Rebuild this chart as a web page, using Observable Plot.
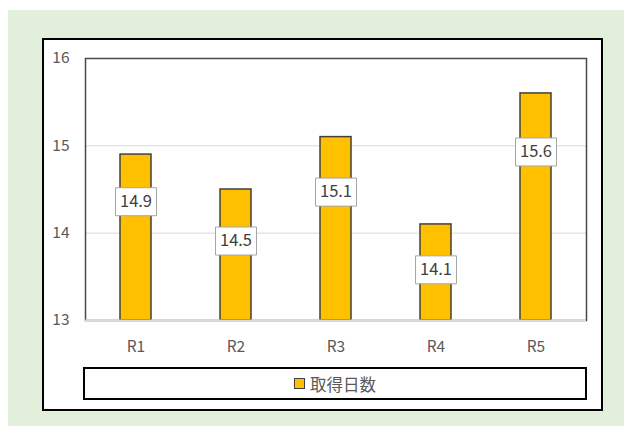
<!DOCTYPE html>
<html>
<head>
<meta charset="utf-8">
<script src="https://cdn.jsdelivr.net/npm/d3@7"></script>
<script src="https://cdn.jsdelivr.net/npm/@observablehq/plot@0.6"></script>
<style>
  html, body { margin: 0; padding: 0; width: 624px; height: 426px; background: #ffffff; overflow: hidden; }
  #bg { position: absolute; left: 8px; top: 10px; width: 616px; height: 416px; background: #E2EFDA; }
  #box { position: absolute; left: 42px; top: 38px; width: 561px; height: 373px; border: 2px solid #000; box-sizing: border-box; background: #fff; }
  #legend { position: absolute; left: 83px; top: 367px; width: 504px; height: 33px; border: 2px solid #000; box-sizing: border-box;
            display: flex; align-items: center; justify-content: center; gap: 5px;
            font-family: "Noto Sans CJK JP", sans-serif; font-size: 16.5px; color: #595959; }
  #legend .sw { width: 9px; height: 9px; background: #FFC000; border: 1px solid #404040; }
  #chart { position: absolute; left: 0; top: 0; }
</style>
</head>
<body>
<div id="bg"></div>
<div id="box"></div>
<div id="chart"></div>
<div id="legend"></div>
<script>
// ---- data ----
const categories = ["R1", "R2", "R3", "R4", "R5"];
const values = [14.9, 14.5, 15.1, 14.1, 15.6];
const labelPositions = [14.36, 13.91, 14.47, 13.58, 14.93];
const yTicks = [13, 14, 15, 16];
const gridValues = [14, 15];
const axisMin = 13;
const axisMax = 16;
const seriesName = "取得日数";

const table = categories.map((c, i) => ({cat: c, value: values[i], labelY: labelPositions[i]}));

const labelBox = {
  draw(context) { context.rect(-20.5, -14, 41, 28); }
};

const chart = Plot.plot({
  width: 624,
  height: 426,
  marginLeft: 85,
  marginRight: 38,
  marginTop: 58,
  marginBottom: 106,
  style: {background: "none", fontFamily: "'Noto Sans CJK JP', sans-serif", fontSize: "15.5px", color: "#595959", overflow: "visible"},
  x: {domain: categories, paddingInner: 0.69, paddingOuter: 0.345, tickSize: 0, tickPadding: 20, label: null},
  y: {domain: [axisMin, axisMax], ticks: yTicks, tickSize: 0, tickPadding: 16, label: null, tickFormat: d3.format("d")},
  marks: [
    Plot.ruleY(gridValues, {stroke: "#d9d9d9", strokeWidth: 1}),
    Plot.barY(table, {x: "cat", y1: () => axisMin, y2: "value", fill: "#FFC000", stroke: "#404040", strokeWidth: 1.5}),
    Plot.frame({stroke: "#44474f", strokeWidth: 1.5}),
    Plot.ruleY([axisMin], {stroke: "#d9d9d9", strokeWidth: 2}),
    Plot.dot(table, {x: "cat", y: "labelY", symbol: labelBox, fill: "#ffffff", stroke: "#a6a6a6", strokeWidth: 1, r: 5}),
    Plot.text(table, {x: "cat", y: "labelY", text: d => d.value.toFixed(1), fill: "#404040", fontSize: 16.5})
  ]
});
document.getElementById("chart").appendChild(chart);

const legend = document.getElementById("legend");
const sw = document.createElement("span"); sw.className = "sw";
const lt = document.createElement("span"); lt.textContent = seriesName;
legend.appendChild(sw); legend.appendChild(lt);
</script>
</body>
</html>
